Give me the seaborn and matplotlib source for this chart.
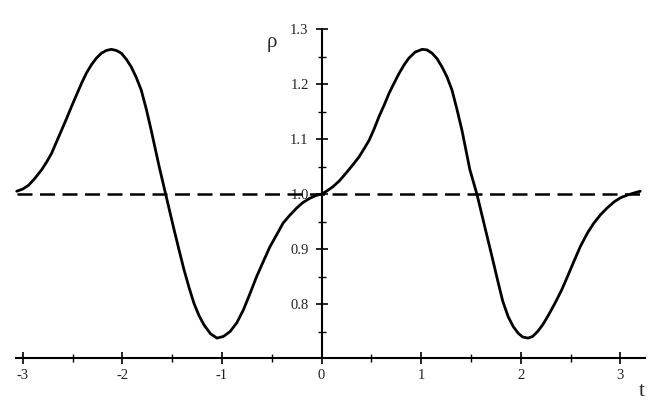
import pandas as pd
import seaborn as sns
import matplotlib.pyplot as plt
from matplotlib.ticker import FixedLocator

# values
t = [-3.06, -3.00, -2.94, -2.88, -2.81, -2.76, -2.71, -2.66, -2.61, -2.56,
     -2.51, -2.46, -2.41, -2.36, -2.31, -2.26, -2.21, -2.16, -2.11, -2.06,
     -2.01, -1.96, -1.91, -1.86, -1.81, -1.76, -1.71, -1.67, -1.63, -1.565,
     -1.48, -1.43, -1.38, -1.33, -1.28, -1.23, -1.18, -1.115, -1.05, -0.985,
     -0.917, -0.85, -0.785, -0.72, -0.651, -0.585, -0.518, -0.45, -0.386,
     -0.32, -0.252, -0.19, -0.12, -0.06, 0.0, 0.05, 0.113, 0.18, 0.246,
     0.31, 0.379, 0.43, 0.479, 0.53, 0.578, 0.63, 0.678, 0.73, 0.778, 0.83,
     0.877, 0.94, 1.01, 1.06, 1.11, 1.16, 1.21, 1.26, 1.31, 1.36, 1.41,
     1.45, 1.49, 1.56, 1.66, 1.72, 1.775, 1.82, 1.874, 1.925, 1.974, 2.02,
     2.074, 2.12, 2.17, 2.22, 2.27, 2.34, 2.41, 2.47, 2.54, 2.60, 2.67,
     2.73, 2.80, 2.87, 2.94, 3.00, 3.07, 3.14, 3.20]
rho = [1.005, 1.009, 1.016, 1.028, 1.044, 1.058, 1.074, 1.095, 1.116, 1.137,
       1.159, 1.180, 1.201, 1.220, 1.235, 1.247, 1.256, 1.261, 1.263, 1.261,
       1.256, 1.245, 1.231, 1.212, 1.189, 1.155, 1.116, 1.083, 1.05, 1.0,
       0.935, 0.898, 0.862, 0.830, 0.801, 0.779, 0.762, 0.746, 0.738, 0.741,
       0.750, 0.766, 0.789, 0.818, 0.850, 0.877, 0.904, 0.926, 0.947,
       0.961, 0.974, 0.984, 0.992, 0.997, 1.0, 1.005, 1.013, 1.024, 1.038,
       1.052, 1.068, 1.083, 1.098, 1.119, 1.141, 1.162, 1.183, 1.202, 1.219, 1.235,
       1.247, 1.258, 1.263, 1.262, 1.256, 1.246, 1.231, 1.213, 1.189, 1.154, 1.116,
       1.080, 1.044, 1.0, 0.925, 0.880, 0.838, 0.805, 0.777, 0.759, 0.747, 0.740,
       0.738, 0.741, 0.750, 0.762, 0.777, 0.800, 0.825, 0.850, 0.880, 0.905, 0.929,
       0.946, 0.962, 0.975, 0.986, 0.993, 0.998, 1.002, 1.005]
ref_level = 1.0

x_ticks = [-3, -2, -1, 0, 1, 2, 3]
x_tick_labels = ["-3", "-2", "-1", "0", "1", "2", "3"]
x_minor = [-2.5, -1.5, -0.5, 0.5, 1.5, 2.5]
y_ticks = [0.8, 0.9, 1.0, 1.1, 1.2, 1.3]
y_tick_labels = ["0.8", "0.9", "1.0", "1.1", "1.2", "1.3"]
y_minor = [0.75, 0.85, 0.95, 1.05, 1.15, 1.25]

sns.set_style("white")
plt.rcParams["font.family"] = ["Liberation Serif", "DejaVu Serif"]

fig = plt.figure(figsize=(6.55, 4.04), dpi=100)
ax = fig.add_axes([0, 0, 1, 1])

df = pd.DataFrame({"t": t, "rho": rho})
ref = pd.DataFrame({"t": [t[0], t[-1]], "rho": [ref_level, ref_level]})

sns.lineplot(data=ref, x="t", y="rho", color="black", lw=1.8,
             linestyle=(0, (6.0, 3.0)), ax=ax)
sns.lineplot(data=df, x="t", y="rho", color="black", lw=2.0,
             solid_joinstyle="round", ax=ax)

ax.set_xlim(-321.5 / 99.6, (655 - 321.5) / 99.6)
ax.set_ylim(1 - 210 / 550, 1 + 194 / 550)

# Maple-style crossing axes
x_axis_y = 1 - 164 / 550
ax.spines["top"].set_visible(False)
ax.spines["right"].set_visible(False)
ax.spines["left"].set_position(("data", 0))
ax.spines["bottom"].set_position(("data", x_axis_y))
ax.spines["left"].set_bounds(x_axis_y, 1.3)
ax.spines["bottom"].set_bounds(-3.07, 3.25)
for s in ("left", "bottom"):
    ax.spines[s].set_linewidth(1.5)
    ax.spines[s].set_color("black")

ax.set_xticks(x_ticks)
ax.set_xticklabels(x_tick_labels)
ax.xaxis.set_minor_locator(FixedLocator(x_minor))
ax.set_yticks(y_ticks)
ax.set_yticklabels(y_tick_labels)
ax.yaxis.set_minor_locator(FixedLocator(y_minor))

ax.tick_params(which="both", bottom=True, left=True, top=False, right=False)
ax.tick_params(which="major", direction="inout", length=8.5, width=1.2,
               color="black", labelsize=10.5, labelcolor="#222222")
ax.tick_params(which="minor", direction="inout", length=6, width=1.0,
               color="black")
ax.tick_params(axis="x", which="major", pad=3.5)
ax.tick_params(axis="y", which="major", pad=5)

ax.set_xlabel("t", fontsize=15)
ax.set_ylabel("ρ", fontsize=15, rotation=0)
ax.xaxis.set_label_coords(642 / 655, 1 - 392 / 404)
ax.yaxis.set_label_coords(272 / 655, 1 - 43 / 404)
ax.xaxis.label.set_va("center")
ax.yaxis.label.set_va("center")
ax.yaxis.label.set_ha("center")

fig.savefig("out.png", dpi=100)
